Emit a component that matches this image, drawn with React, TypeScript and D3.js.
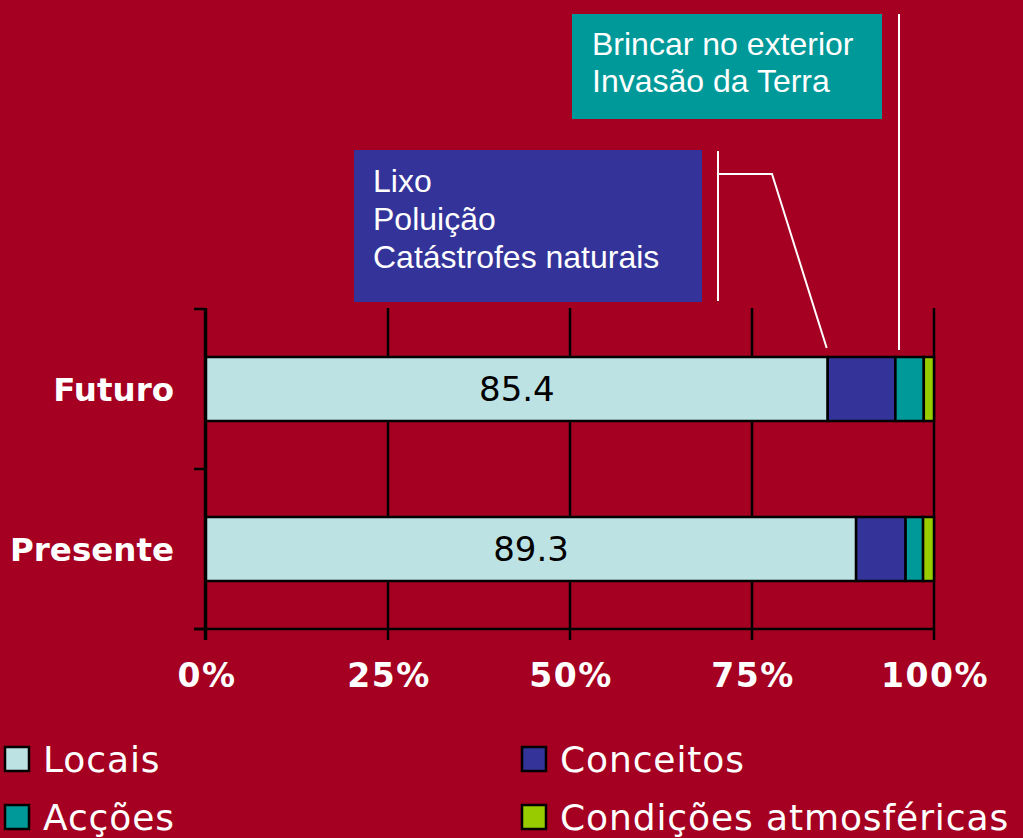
import React from "react";
import * as d3 from "d3";

const categories = ["Futuro", "Presente"];
const seriesNames = ["Locais", "Conceitos", "Acções", "Condições atmosféricas"];
const seriesColors = ["#BCE2E4", "#333399", "#009999", "#99CC00"];
const locais = [85.4, 89.3];
const conceitos = [9.3, 6.8];
const accoes = [3.9, 2.4];
const condicoes = [1.4, 1.5];
const tickValues = [0, 25, 50, 75, 100];
const tickLabels = ["0%", "25%", "50%", "75%", "100%"];
const noteBlue = ["Lixo", "Poluição", "Catástrofes naturais"];
const noteTeal = ["Brincar no exterior", "Invasão da Terra"];

const BG = "#A50021";
const W = 1023;
const H = 838;

export default function App() {
  const x = d3.scaleLinear().domain([0, 100]).range([206, 934]);
  const y = d3.scaleBand().domain(categories).range([309, 629]).paddingInner(0.6).paddingOuter(0.3);
  const yEdge = d3.scaleLinear().domain([0, categories.length]).range([309, 629]);

  const rows = categories.map((c, i) => ({ cat: c, vals: [locais[i], conceitos[i], accoes[i], condicoes[i]] }));
  const stacked = rows.map((r) => {
    let acc = 0;
    return {
      cat: r.cat,
      segs: r.vals.map((v, k) => {
        const s = { x0: acc, x1: acc + v, k };
        acc += v;
        return s;
      }),
    };
  });

  const futY = y("Futuro")!;
  const bh = y.bandwidth();

  const legendItems = [
    { name: seriesNames[0], color: seriesColors[0], lx: 5, ly: 772 },
    { name: seriesNames[1], color: seriesColors[1], lx: 522, ly: 772 },
    { name: seriesNames[2], color: seriesColors[2], lx: 5, ly: 830 },
    { name: seriesNames[3], color: seriesColors[3], lx: 522, ly: 830 },
  ];

  const bracketLine = d3.line()([
    [718, 174],
    [772, 174],
    [x(locais[0]) - 1, futY - 9],
  ]);

  return (
    <svg width={W} height={H} style={{ position: "absolute", left: 0, top: 0, background: BG }}>
      <rect x={0} y={0} width={W} height={H} fill={BG} />
      {/* gridlines */}
      {tickValues.map((t) => (
        <line key={"g" + t} x1={x(t)} x2={x(t)} y1={308} y2={640} stroke="#000" strokeWidth={2.5} />
      ))}
      {/* bars */}
      {stacked.map((r) =>
        r.segs.map((s) => (
          <rect
            key={r.cat + s.k}
            x={x(s.x0)}
            y={y(r.cat)}
            width={x(s.x1) - x(s.x0)}
            height={bh}
            fill={seriesColors[s.k]}
            stroke="#000"
            strokeWidth={2.5}
          />
        ))
      )}
      {/* data labels */}
      {categories.map((c, i) => (
        <text
          key={"dl" + c}
          x={(x(0) + x(locais[i])) / 2}
          y={y(c)! + bh / 2 + 12}
          textAnchor="middle"
          fontFamily="DejaVu Sans"
          fontSize={34}
          fill="#000"
        >
          {locais[i].toFixed(1)}
        </text>
      ))}
      {/* y axis */}
      <line x1={205} x2={205} y1={308} y2={640} stroke="#000" strokeWidth={2.5} />
      {d3.range(categories.length + 1).map((k) => (
        <line key={"yt" + k} x1={194} x2={205} y1={yEdge(k)} y2={yEdge(k)} stroke="#000" strokeWidth={2.5} />
      ))}
      {/* x axis */}
      <line x1={194} x2={935} y1={629} y2={629} stroke="#000" strokeWidth={2.5} />
      {categories.map((c) => (
        <text
          key={"cl" + c}
          x={174}
          y={y(c)! + bh / 2 + 12}
          textAnchor="end"
          fontFamily="DejaVu Sans"
          fontWeight="bold"
          fontSize={32.5}
          fill="#fff"
        >
          {c}
        </text>
      ))}
      {tickValues.map((t, i) => (
        <text
          key={"tl" + t}
          x={x(t) + 1}
          y={687}
          textAnchor="middle"
          fontFamily="DejaVu Sans"
          fontWeight="bold"
          fontSize={33}
          fill="#fff"
          letterSpacing={1.5}
        >
          {tickLabels[i]}
        </text>
      ))}
      {/* annotations */}
      <rect x={354} y={150} width={348} height={152} fill="#333399" />
      {noteBlue.map((t, i) => (
        <text key={"nb" + i} x={373} y={192 + i * 38} fontFamily="Liberation Sans" fontSize={32} fill="#fff">
          {t}
        </text>
      ))}
      <rect x={572} y={14} width={310} height={105} fill="#009999" />
      {noteTeal.map((t, i) => (
        <text key={"nt" + i} x={592} y={55 + i * 37} fontFamily="Liberation Sans" fontSize={32} fill="#fff">
          {t}
        </text>
      ))}
      <line x1={718} x2={718} y1={151} y2={301} stroke="#fff" strokeWidth={2} />
      <path d={bracketLine || ""} fill="none" stroke="#fff" strokeWidth={2} />
      <line x1={899} x2={899} y1={14} y2={350} stroke="#fff" strokeWidth={2} />
      {/* legend */}
      {legendItems.map((l) => (
        <g key={"lg" + l.name}>
          <rect x={l.lx} y={l.ly - 25} width={24} height={24} fill={l.color} stroke="#000" strokeWidth={2.5} />
          <text x={l.lx + 38} y={l.ly} fontFamily="DejaVu Sans" fontSize={36} fill="#fff" letterSpacing={0.9}>
            {l.name}
          </text>
        </g>
      ))}
    </svg>
  );
}
